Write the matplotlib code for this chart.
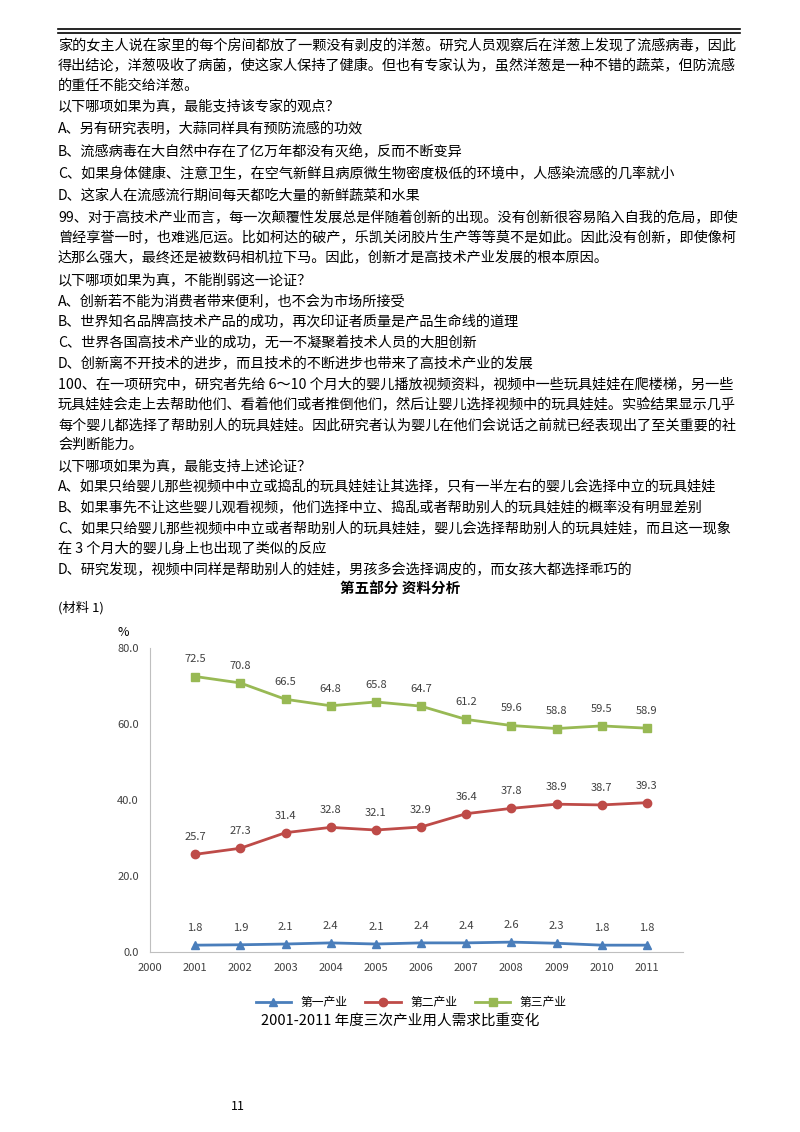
import matplotlib
matplotlib.use('Agg')
import matplotlib.pyplot as plt
from matplotlib.lines import Line2D

plt.rcParams['font.family'] = ['Noto Sans CJK SC', 'DejaVu Sans']

years = [2001, 2002, 2003, 2004, 2005, 2006, 2007, 2008, 2009, 2010, 2011]
first = [1.8, 1.9, 2.1, 2.4, 2.1, 2.4, 2.4, 2.6, 2.3, 1.8, 1.8]
second = [25.7, 27.3, 31.4, 32.8, 32.1, 32.9, 36.4, 37.8, 38.9, 38.7, 39.3]
third = [72.5, 70.8, 66.5, 64.8, 65.8, 64.7, 61.2, 59.6, 58.8, 59.5, 58.9]
names = ['第一产业', '第二产业', '第三产业']

lines = [
    (46, "家的女主人说在家里的每个房间都放了一颗没有剥皮的洋葱。研究人员观察后在洋葱上发现了流感病毒，因此"),
    (66, "得出结论，洋葱吸收了病菌，使这家人保持了健康。但也有专家认为，虽然洋葱是一种不错的蔬菜，但防流感"),
    (86, "的重任不能交给洋葱。"),
    (107, "以下哪项如果为真，最能支持该专家的观点？"),
    (129, "A、另有研究表明，大蒜同样具有预防流感的功效"),
    (152, "B、流感病毒在大自然中存在了亿万年都没有灭绝，反而不断变异"),
    (174, "C、如果身体健康、注意卫生，在空气新鲜且病原微生物密度极低的环境中，人感染流感的几率就小"),
    (196, "D、这家人在流感流行期间每天都吃大量的新鲜蔬菜和水果"),
    (218, "99、对于高技术产业而言，每一次颠覆性发展总是伴随着创新的出现。没有创新很容易陷入自我的危局，即使"),
    (238, "曾经享誉一时，也难逃厄运。比如柯达的破产，乐凯关闭胶片生产等等莫不是如此。因此没有创新，即使像柯"),
    (258, "达那么强大，最终还是被数码相机拉下马。因此，创新才是高技术产业发展的根本原因。"),
    (281, "以下哪项如果为真，不能削弱这一论证？"),
    (302, "A、创新若不能为消费者带来便利，也不会为市场所接受"),
    (322, "B、世界知名品牌高技术产品的成功，再次印证者质量是产品生命线的道理"),
    (343, "C、世界各国高技术产业的成功，无一不凝聚着技术人员的大胆创新"),
    (364, "D、创新离不开技术的进步，而且技术的不断进步也带来了高技术产业的发展"),
    (385, "100、在一项研究中，研究者先给 6～10 个月大的婴儿播放视频资料，视频中一些玩具娃娃在爬楼梯，另一些"),
    (405, "玩具娃娃会走上去帮助他们、看着他们或者推倒他们，然后让婴儿选择视频中的玩具娃娃。实验结果显示几乎"),
    (425, "每个婴儿都选择了帮助别人的玩具娃娃。因此研究者认为婴儿在他们会说话之前就已经表现出了至关重要的社"),
    (445, "会判断能力。"),
    (466, "以下哪项如果为真，最能支持上述论证？"),
    (487, "A、如果只给婴儿那些视频中中立或捣乱的玩具娃娃让其选择，只有一半左右的婴儿会选择中立的玩具娃娃"),
    (508, "B、如果事先不让这些婴儿观看视频，他们选择中立、捣乱或者帮助别人的玩具娃娃的概率没有明显差别"),
    (529, "C、如果只给婴儿那些视频中中立或者帮助别人的玩具娃娃，婴儿会选择帮助别人的玩具娃娃，而且这一现象"),
    (549, "在 3 个月大的婴儿身上也出现了类似的反应"),
    (570, "D、研究发现，视频中同样是帮助别人的娃娃，男孩多会选择调皮的，而女孩大都选择乖巧的"),
]

W, H = 800, 1132
fig = plt.figure(figsize=(8, 11.32), dpi=100)

# double rule at the top
for y in (29, 33):
    fig.add_artist(Line2D([58 / W, 740 / W], [1 - y / H] * 2, color='black', lw=1.2))

for y, s in lines:
    fig.text(58 / W, 1 - y / H, s, fontsize=10.2, va='center', ha='left')

fig.text(400 / W, 1 - 589 / H, '第五部分 资料分析', fontsize=10.5, weight='bold', ha='center', va='center')
fig.text(58 / W, 1 - 608 / H, '(材料 1)', fontsize=9.5, ha='left', va='center')

ax = fig.add_axes([150 / W, 1 - 952 / H, 533 / W, 304 / H])
ax.plot(years, first, color='#4a7ebb', marker='^', ms=6, lw=2, label=names[0])
ax.plot(years, second, color='#be4b48', marker='o', ms=6, lw=2, label=names[1])
ax.plot(years, third, color='#98b954', marker='s', ms=6, lw=2, label=names[2])
for ys in (first, second, third):
    for x, v in zip(years, ys):
        ax.text(x, v + 4.5, f'{v}', ha='center', va='center', fontsize=8, color='#404040')

ax.set_xlim(2000, 2011.8)
ax.set_ylim(0, 80)
ax.set_xticks(range(2000, 2012))
ax.set_yticks([0, 20, 40, 60, 80])
ax.set_yticklabels([f'{v:.1f}' for v in [0, 20, 40, 60, 80]])
ax.tick_params(labelsize=8, colors='#404040', length=0, pad=8)
for side in ('top', 'right'):
    ax.spines[side].set_visible(False)
for side in ('left', 'bottom'):
    ax.spines[side].set_color('#bfbfbf')
ax.text(-0.05, 1.05, '%', transform=ax.transAxes, fontsize=9, ha='center', va='center')
ax.legend(loc='upper center', bbox_to_anchor=(0.49, -0.11), ncol=3, frameon=False,
          fontsize=8.5, handlelength=3, columnspacing=1.5)

fig.text(400 / W, 1 - 1021 / H, '2001-2011 年度三次产业用人需求比重变化', fontsize=10.5,
         ha='center', va='center')
fig.text(238 / W, 1 - 1106 / H, '11', fontsize=9, ha='center', va='center')

fig.savefig('out.png', dpi=100)
